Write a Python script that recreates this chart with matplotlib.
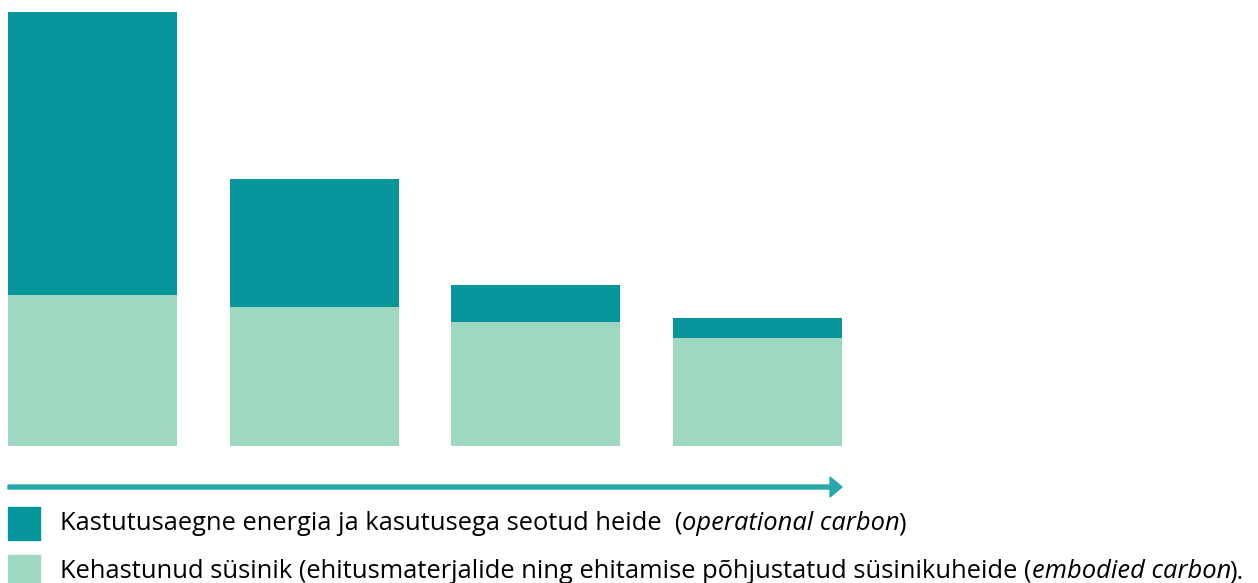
import matplotlib.pyplot as plt
from matplotlib.patches import Rectangle, FancyArrow

plt.rcParams['font.family'] = ['Open Sans', 'DejaVu Sans']

# data (relative units)
stages = ['A', 'B', 'C', 'D']
embodied = [151, 139, 124, 108]
operational = [283, 128, 37, 20]

labels = [
    ('Kastutusaegne energia ja kasutusega seotud heide  (', 'operational carbon', ')'),
    ('Kehastunud süsinik (ehitusmaterjalide ning ehitamise põhjustatud süsinikuheide (',
     'embodied carbon', ').'),
]

dark = '#05959b'
light = '#9fd8c0'
arrow_col = '#2aa7ac'
fs = 18.4

W, H = 1258, 583
fig = plt.figure(figsize=(W / 100, H / 100), dpi=100)

w = 169 / 222
ax = fig.add_axes([8 / W, (H - 446) / H, (842 - 8) / W, (446 - 12) / H])
x = range(len(stages))
ax.bar(x, embodied, width=w, color=light)
ax.bar(x, operational, width=w, bottom=embodied, color=dark)
ax.set_xlim(-w / 2, len(stages) - 1 + w / 2)
ax.set_ylim(0, max(e + o for e, o in zip(embodied, operational)))
ax.axis('off')

# arrow under the bars
fig.patches.append(FancyArrow(8 / W, (H - 487) / H, (830 - 8) / W, 0,
                              width=4 / H, head_width=20 / H, head_length=12 / W,
                              length_includes_head=False, color=arrow_col,
                              transform=fig.transFigure, figure=fig))

# legend
rows = [(dark, 524), (light, 572)]
for (col, yc), (pre, it, post) in zip(rows, labels):
    fig.patches.append(Rectangle((8 / W, (H - yc - 16) / H), 32 / W, 33 / H,
                                 color=col, transform=fig.transFigure, figure=fig))
    t1 = fig.text(60 / W, (H - yc) / H, pre, fontsize=fs, va='center', color='black')
    a2 = ax.annotate(it, xy=(1, 0), xycoords=t1, va='bottom', ha='left',
                     fontsize=fs, style='italic', annotation_clip=False)
    ax.annotate(post, xy=(1, 0), xycoords=a2, xytext=(-2, 0), textcoords='offset pixels',
                va='bottom', ha='left', fontsize=fs, annotation_clip=False)

fig.savefig('out.png', dpi=100)
